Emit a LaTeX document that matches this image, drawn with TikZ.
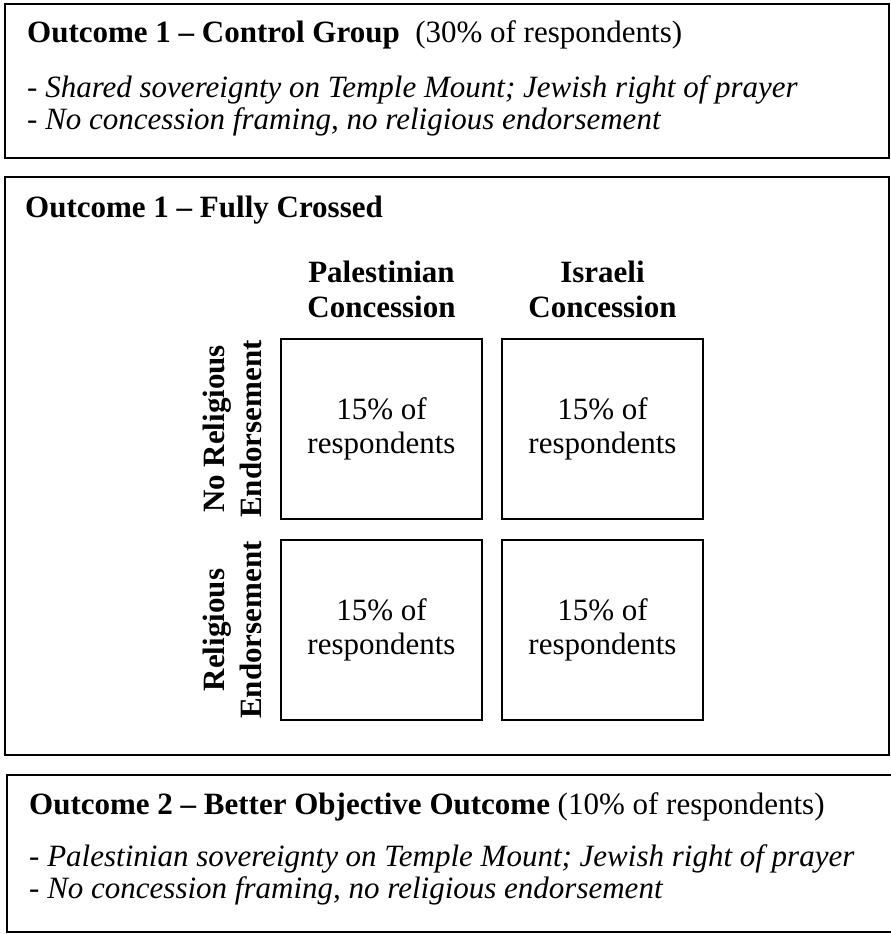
\documentclass[tikz,border=0pt]{standalone}
\usepackage{fontspec}
\setmainfont{Liberation Serif}
\usetikzlibrary{positioning}

\begin{document}
\begin{tikzpicture}[
      x=1pt, y=-1pt,
      frame/.style={draw, line width=2.2pt},
      cell/.style={rectangle, draw, line width=2pt, minimum width=201pt, minimum height=180pt, inner sep=0pt, align=center, font=\fontsize{31}{34}\selectfont},
      title/.style={anchor=base west, inner sep=0pt, font=\fontsize{31}{34}\selectfont},
      bullet/.style={anchor=base west, inner sep=0pt, font=\fontsize{31}{34}\selectfont\itshape},
      head/.style={align=center, inner sep=0pt, font=\fontsize{31}{35}\selectfont\bfseries},
      rowlab/.style={rotate=90, align=center, inner sep=0pt, font=\fontsize{31}{37}\selectfont\bfseries}
    ]
    \useasboundingbox (0,0) rectangle (891,934);

    % outer frames
    \draw[frame] (5,4) rectangle (889,158);
    \draw[frame] (5,177) rectangle (889,755);
    \begin{scope}
      \clip (0,0) rectangle (891,934);
      \draw[frame] (7,775) rectangle (905,932);
    \end{scope}

    % control group
    \node[title] (ctrl) at (27,43) {\textbf{Outcome 1 -- Control Group}\ \ (30\% of respondents)};
    \node[bullet] (ctrla) at (27,97) {- Shared sovereignty on Temple Mount; Jewish right of prayer};
    \node[bullet] (ctrlb) at (27,129) {- No concession framing, no religious endorsement};

    % fully crossed
    \node[title] (cross) at (25,217) {\textbf{Outcome 1 -- Fully Crossed}};
    \node[cell] (pn) at (381.5,429) {15\% of\\respondents};
    \node[cell, right=18pt of pn] (in) {15\% of\\respondents};
    \node[cell, below=19pt of pn] (pr) {15\% of\\respondents};
    \node[cell, below=19pt of in] (ir) {15\% of\\respondents};
    \node[head, above=20pt of pn] (pal) {Palestinian\\Concession};
    \node[head, above=20pt of in] (isr) {Israeli\\Concession};
    \node[rowlab, left=18pt of pn, anchor=south] (norel) {No Religious\\Endorsement};
    \node[rowlab, left=18pt of pr, anchor=south] (rel) {Religious\\Endorsement};

    % better objective outcome
    \node[title] (better) at (29,814) {\textbf{Outcome 2 -- Better Objective Outcome} (10\% of respondents)};
    \node[bullet] (bettera) at (29,866) {- Palestinian sovereignty on Temple Mount; Jewish right of prayer};
    \node[bullet] (betterb) at (29,898) {- No concession framing, no religious endorsement};
  \end{tikzpicture}
\end{document}
